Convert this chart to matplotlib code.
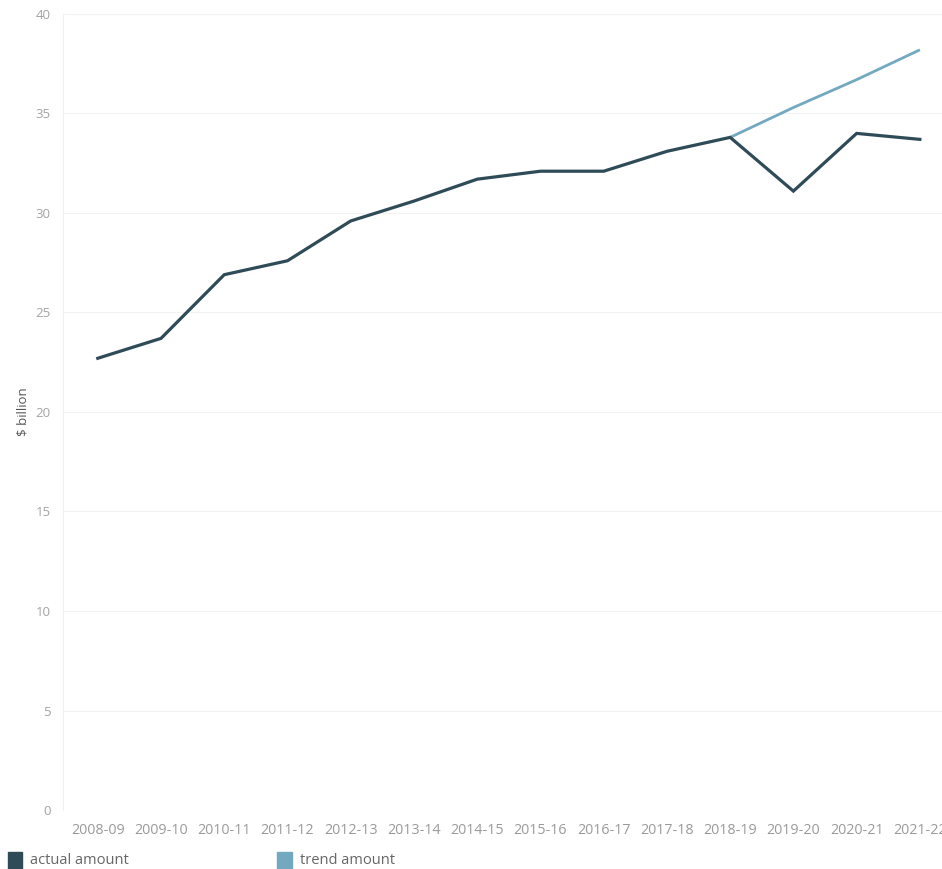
import numpy as np
import matplotlib
matplotlib.use("Agg")
import matplotlib.pyplot as plt
from matplotlib.patches import Rectangle

years = ["2008-09", "2009-10", "2010-11", "2011-12", "2012-13", "2013-14", "2014-15",
         "2015-16", "2016-17", "2017-18", "2018-19", "2019-20", "2020-21", "2021-22"]
actual = [22.7, 23.7, 26.9, 27.6, 29.6, 30.6, 31.7, 32.1, 32.1, 33.1, 33.8, 31.1, 34.0, 33.7]
trend = [np.nan] * 10 + [33.8, 35.3, 36.7, 38.2]

actual_color = "#2f4b57"
trend_color = "#72a9c0"

plt.rcParams["font.family"] = ["Open Sans", "DejaVu Sans"]

fig = plt.figure(figsize=(9.42, 8.69), dpi=100)
ax = fig.add_axes([63 / 942, 1 - 810 / 869, 1 - 63 / 942, (810 - 14) / 869])

x = np.arange(len(years))
ax.plot(x, trend, color=trend_color, lw=2.0, solid_capstyle="butt")
ax.plot(x, actual, color=actual_color, lw=2.3, solid_joinstyle="miter")

ax.set_xlim(-0.55, 13.35)
ax.set_ylim(0, 40)
ax.set_yticks(range(0, 41, 5))
ax.set_xticks(x)
ax.set_xticklabels(years)
ax.grid(axis="y", color="#f2f2f2", lw=0.8)
ax.set_axisbelow(True)
for s in ["top", "right", "bottom"]:
    ax.spines[s].set_visible(False)
ax.spines["left"].set_color("#f0f0f0")
ax.tick_params(length=0, labelsize=9.5, colors="#a3a3a3", pad=9)
ax.tick_params(axis="x", labelsize=10.3, colors="#9a9a9a", pad=9)
ax.set_ylabel("$ billion", fontsize=9.5, color="#555555", labelpad=4)

# legend at the bottom
fig.patches.append(Rectangle((8 / 942, 0), 14 / 942, 17 / 869, transform=fig.transFigure,
                             color=actual_color, zorder=5))
fig.text(30 / 942, 8 / 869, "actual amount", fontsize=10.5, color="#666666", va="center")
fig.patches.append(Rectangle((277 / 942, 0), 15 / 942, 17 / 869, transform=fig.transFigure,
                             color=trend_color, zorder=5))
fig.text(300 / 942, 8 / 869, "trend amount", fontsize=10.5, color="#666666", va="center")

fig.savefig("out.png", dpi=100)
